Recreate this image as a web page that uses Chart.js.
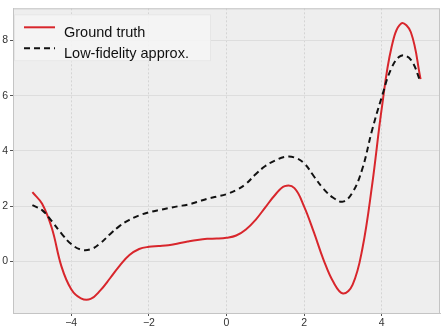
<!DOCTYPE html>
<html>
<head>
<meta charset="utf-8">
<script src="https://cdn.jsdelivr.net/npm/chart.js@4"></script>
<style>
  body { margin: 0; background: #ffffff; }
  #wrap { width: 442px; height: 329px; }
</style>
</head>
<body>
<div id="wrap"><canvas id="myChart" width="442" height="329"></canvas></div>
<script>
// values, x step 0.25
const xs = [-5, -4.75, -4.5, -4.25, -4, -3.75, -3.5, -3.25, -3, -2.75, -2.5, -2.25, -2, -1.75, -1.5, -1.25, -1, -0.75, -0.5, -0.25,
  0, 0.25, 0.5, 0.75, 1, 1.25, 1.5, 1.75, 2, 2.25, 2.5, 2.75, 3, 3.25, 3.5, 3.75, 4, 4.25, 4.5, 4.75, 5];
const groundTruth = [2.50, 2.08, 1.20, -0.20, -1.02, -1.35, -1.37, -1.06, -0.62, -0.16, 0.22, 0.44, 0.52, 0.55, 0.58, 0.64, 0.71, 0.77, 0.81, 0.82,
  0.85, 0.93, 1.15, 1.50, 1.95, 2.40, 2.72, 2.65, 1.98, 1.05, 0.05, -0.75, -1.17, -0.85, 0.45, 2.75, 5.55, 7.75, 8.62, 8.30, 6.60];
const lowFidelity = [2.03, 1.85, 1.45, 1.00, 0.62, 0.42, 0.43, 0.65, 0.98, 1.28, 1.50, 1.66, 1.77, 1.85, 1.92, 1.99, 2.05, 2.15, 2.26, 2.34,
  2.43, 2.58, 2.80, 3.15, 3.45, 3.65, 3.78, 3.76, 3.55, 3.08, 2.62, 2.30, 2.16, 2.50, 3.35, 4.75, 5.95, 7.00, 7.45, 7.30, 6.50];
const xTicks = [-4, -2, 0, 2, 4];
const yTicks = [0, 2, 4, 6, 8];

const ctx = document.getElementById('myChart').getContext('2d');

const fmt = (v) => v < 0 ? '\u2212' + Math.abs(v) : String(v);

// grey plot area with thin frame, like the bmh style
const plotBg = {
    id: 'plotBg',
    beforeDraw(chart) {
        const {ctx, chartArea: a} = chart;
        ctx.save();
        ctx.fillStyle = '#eeeeee';
        ctx.fillRect(a.left, a.top, a.right - a.left, a.bottom - a.top);
        ctx.restore();
    },
    afterDraw(chart) {
        const {ctx, chartArea: a} = chart;
        ctx.save();
        ctx.strokeStyle = '#c4c4c4';
        ctx.lineWidth = 1;
        ctx.strokeRect(a.left + 0.5, a.top + 0.5, a.right - a.left - 1, a.bottom - a.top);
        ctx.restore();
    }
};

// legend drawn inside the plot, top left
const legendBox = {
    id: 'legendBox',
    afterDatasetsDraw(chart) {
        const {ctx, chartArea: a} = chart;
        const x0 = a.left + 1, y0 = a.top + 6;
        ctx.save();
        ctx.fillStyle = 'rgba(244,244,244,0.9)';
        ctx.strokeStyle = '#e6e6e6';
        ctx.fillRect(x0, y0, 197, 47);
        ctx.strokeRect(x0 + 0.5, y0 + 0.5, 196, 46);
        const shown = [0, 1];
        shown.forEach((i) => {
            const ds = chart.data.datasets[i];
            const y = y0 + 13 + i * 21;
            ctx.strokeStyle = ds.borderColor;
            ctx.lineWidth = ds.borderWidth;
            ctx.setLineDash(ds.borderDash || []);
            ctx.beginPath();
            ctx.moveTo(x0 + 10, y);
            ctx.lineTo(x0 + 41, y);
            ctx.stroke();
            ctx.setLineDash([]);
            ctx.fillStyle = '#111111';
            ctx.font = '14.5px "Liberation Sans", Arial, sans-serif';
            ctx.textBaseline = 'alphabetic';
            ctx.fillText(ds.label, x0 + 50, y + 9.5);
        });
        ctx.restore();
    }
};

const myChart = new Chart(ctx, {
    type: 'line',
    data: {
        datasets: [{
            label: 'Ground truth',
            data: xs.map((x, i) => ({x: x, y: groundTruth[i]})),
            borderColor: '#d8262c',
            borderWidth: 2,
            pointRadius: 0,
            tension: 0.4,
            fill: false,
            order: 1
        }, {
            label: 'Low-fidelity approx.',
            data: xs.map((x, i) => ({x: x, y: lowFidelity[i]})),
            borderColor: '#111111',
            borderWidth: 2,
            borderDash: [6, 4],
            pointRadius: 0,
            tension: 0.4,
            fill: false,
            order: 0
        }]
    },
    options: {
        responsive: false,
        animation: false,
        layout: {
            padding: {top: 2, right: 2, left: 0, bottom: 0}
        },
        plugins: {
            legend: { display: false },
            tooltip: { enabled: false }
        },
        scales: {
            x: {
                type: 'linear',
                min: -5.5,
                max: 5.5,
                afterBuildTicks: (axis) => { axis.ticks = xTicks.map(v => ({value: v})); },
                afterFit: (scale) => { scale.height = 16; },
                grid: {
                    color: '#d4d4d4',
                    lineWidth: 1,
                    tickColor: '#555555',
                    tickLength: 3,
                    drawTicks: true
                },
                border: { display: true, color: '#c4c4c4', dash: [2, 2] },
                ticks: {
                    color: '#333333',
                    padding: 1,
                    maxRotation: 0,
                    font: { size: 10.5, family: '"Liberation Sans", Arial, sans-serif' },
                    callback: (value) => fmt(value)
                }
            },
            y: {
                type: 'linear',
                min: -1.88,
                max: 9.17,
                afterBuildTicks: (axis) => { axis.ticks = yTicks.map(v => ({value: v})); },
                afterFit: (scale) => { scale.width = 13; },
                grid: {
                    color: '#dddddd',
                    lineWidth: 1,
                    tickColor: '#555555',
                    tickLength: 3,
                    drawTicks: true
                },
                border: { display: true, color: '#c4c4c4' },
                ticks: {
                    color: '#333333',
                    padding: 2,
                    font: { size: 10.5, family: '"Liberation Sans", Arial, sans-serif' },
                    callback: (value) => fmt(value)
                }
            }
        }
    },
    plugins: [plotBg, legendBox]
});
</script>
</body>
</html>
